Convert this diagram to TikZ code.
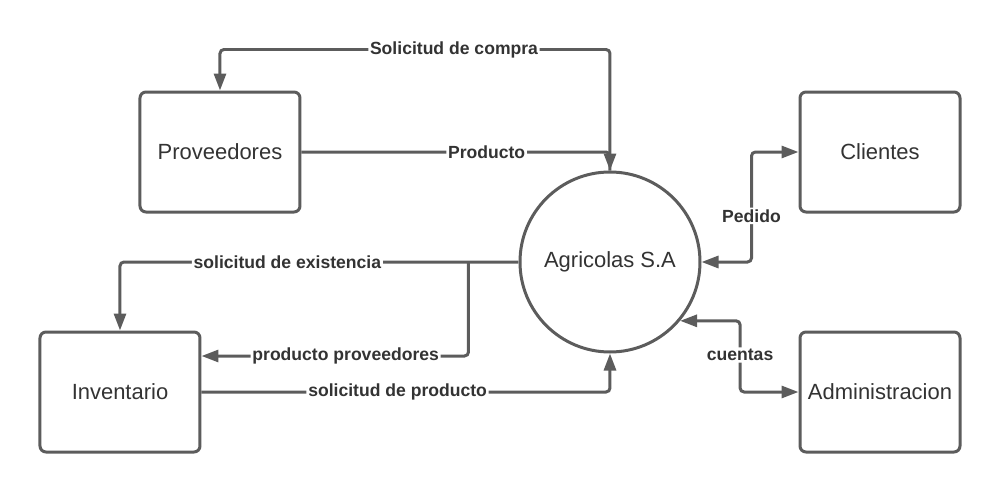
\documentclass[tikz,border=0pt]{standalone}
\usepackage{fontspec}
\setmainfont{Liberation Sans}
\usepackage{xcolor}
\usepackage{tikz}
\usetikzlibrary{shapes.geometric, arrows.meta}
\usetikzlibrary{positioning}
\definecolor{linea}{HTML}{5C5C5C}
\definecolor{texto}{HTML}{333333}
\tikzstyle{entidad} = [rectangle, rounded corners=0.12cm, minimum width=3.2cm, minimum height=2.4cm, text centered, draw=linea, line width=0.06cm, fill=white, text=texto, font=\fontsize{12.5}{15}\selectfont]
\tikzstyle{proceso} = [circle, minimum size=3.6cm, draw=linea, line width=0.06cm, fill=white, text=texto, font=\fontsize{12.5}{15}\selectfont]
\tikzstyle{arrow} = [draw=linea, line width=0.06cm, rounded corners=0.08cm, ->, >={Triangle[length=0.34cm, width=0.24cm]}]
\tikzstyle{arrowboth} = [arrow, <->]
\tikzstyle{lbl} = [fill=white, inner sep=1pt, text=texto, font=\bfseries\fontsize{10}{12}\selectfont]

\begin{document}
\begin{tikzpicture}[node distance=5.4 cm]
    \useasboundingbox (-12.2,-4.6) rectangle (7.8,5.24);
    \node (agri) [proceso] {Agricolas S.A};
    \node (cli) [entidad, right of = agri, yshift=2.2 cm] {Clientes};
    \node (adm) [entidad, right of = agri, yshift=-2.6 cm] {Administracion};
    \node (prov) [entidad, left of = agri, xshift=-2.4 cm, yshift=2.2 cm] {Proveedores};
    \node (inv) [entidad, left of = agri, xshift=-4.4 cm, yshift=-2.6 cm] {Inventario};
    \coordinate (ramal) at ([xshift=-1 cm]agri.west);
    \draw [arrow] (agri.north) -- ++(0,2.42) -| node [lbl, pos=0.2] {Solicitud de compra} (prov.north);
    \draw [arrow] (prov.east) -| node [lbl, pos=0.3] {Producto} (agri.north);
    \draw [arrow] (agri.west) -| node [lbl, pos=0.29] {solicitud de existencia} (inv.north);
    \draw [arrow] (ramal) |- node [lbl, pos=0.73] {producto proveedores} ([yshift=0.72 cm]inv.east);
    \draw [arrow] (inv.east) -| node [lbl, pos=0.24] {solicitud de producto} (agri.south);
    \draw [arrowboth] (agri.east) -- ++(1,0) |- node [lbl, pos=0.21] {Pedido} (cli.west);
    \draw [arrowboth] (agri.-40) -- ++(1.2,0) |- node [lbl, pos=0.24] {cuentas} (adm.west);
\end{tikzpicture}
\end{document}
